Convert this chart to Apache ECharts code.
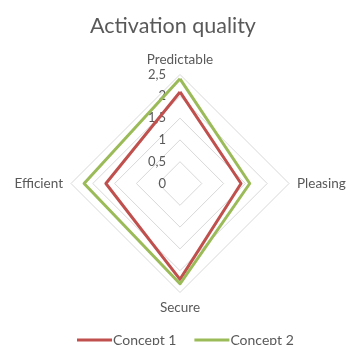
<!DOCTYPE html>
<html>
<head>
<meta charset="utf-8">
<script src="https://cdn.jsdelivr.net/npm/echarts@6/dist/echarts.min.js"></script>
<style>
  html, body { margin: 0; padding: 0; background: #fff; }
  #chart { width: 346px; height: 345px; }
</style>
</head>
<body>
<div id="chart"></div>
<script>
// axes, in the order echarts walks them (top, left, bottom, right)
var axes = ['Predictable', 'Efficient', 'Secure', 'Pleasing'];
var concept1 = [2.1, 1.7, 2.2, 1.4];
var concept2 = [2.4, 2.2, 2.3, 1.6];
var seriesNames = ['Concept 1', 'Concept 2'];
var colors = ['#C0504D', '#9BBB59'];
var maxValue = 2.5;

var font = 'Lato, "Open Sans", sans-serif';
var grey = '#595959';

var chart = echarts.init(document.getElementById('chart'));

var indicator = axes.map(function (name, i) {
    var ind = { name: name, min: 0, max: maxValue };
    // only the top axis carries the value labels
    ind.axisLabel = {
        show: i === 0,
        showMinLabel: true,
        showMaxLabel: true,
        margin: 14,
        color: grey,
        fontFamily: font,
        fontSize: 13,
        formatter: function (v) { return String(v).replace('.', ','); }
    };
    return ind;
});

chart.setOption({
    backgroundColor: '#fff',
    animation: false,
    title: {
        text: 'Activation quality',
        left: 'center',
        top: 10,
        textStyle: { color: grey, fontFamily: font, fontSize: 21.5, fontWeight: 'normal' }
    },
    legend: {
        bottom: -7,
        left: 72,
        icon: 'rect',
        itemWidth: 35,
        itemHeight: 3,
        itemGap: 18,
        textStyle: { color: grey, fontFamily: font, fontSize: 14, padding: [0, 0, 0, -4] },
        data: seriesNames
    },
    radar: {
        center: [180, 183.5],
        radius: 109,
        shape: 'polygon',
        splitNumber: 5,
        nameGap: 8,
        axisName: { color: grey, fontFamily: font, fontSize: 13.5 },
        axisLine: { show: false },
        axisTick: { show: false },
        axisLabel: { show: false },
        splitLine: { lineStyle: { color: '#d9d9d9', width: 1 } },
        splitArea: { show: false },
        indicator: indicator
    },
    series: [{
        type: 'radar',
        symbol: 'none',
        data: [
            { name: seriesNames[0], value: concept1, lineStyle: { color: colors[0], width: 3 }, itemStyle: { color: colors[0] } },
            { name: seriesNames[1], value: concept2, lineStyle: { color: colors[1], width: 3 }, itemStyle: { color: colors[1] } }
        ]
    }]
});
</script>
</body>
</html>
